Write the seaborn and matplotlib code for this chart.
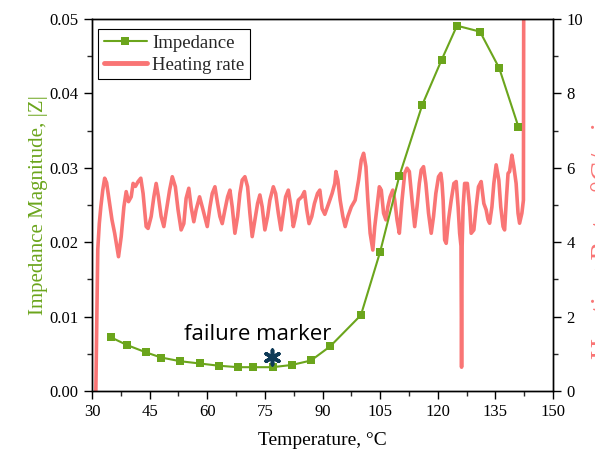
import numpy as np
import pandas as pd
import seaborn as sns
import matplotlib
matplotlib.use("Agg")
import matplotlib.pyplot as plt
from matplotlib.ticker import MultipleLocator, FormatStrFormatter

# ---------------- data ----------------
imp_temp = [35, 39, 44, 48, 53, 58, 63, 68, 72, 77, 82, 87, 92, 100, 105, 110,
            116, 121, 125, 131, 136, 141]
imp_mag = [0.0072, 0.0062, 0.0052, 0.0045, 0.0040, 0.0037, 0.0034, 0.0032,
           0.0032, 0.0032, 0.0035, 0.0041, 0.0060, 0.0102, 0.0187, 0.0289,
           0.0385, 0.0445, 0.0491, 0.0483, 0.0434, 0.0355]

hr_temp = [31.0, 31.2, 31.5, 31.9, 32.3, 32.8, 33.3, 33.8, 34.6, 35.2, 35.9, 36.6,
           36.9, 37.6, 38.3, 38.9, 39.5, 40.2, 40.7, 41.3, 42.0, 42.7, 43.3, 44.1,
           44.6, 45.4, 46.1, 46.7, 47.3, 48.0, 48.7, 49.4, 50.2, 50.9, 51.7, 52.4,
           53.2, 53.9, 54.5, 55.2, 55.8, 56.5, 57.1, 58.0, 58.9, 60.0, 60.7, 61.3,
           62.0, 62.7, 63.3, 63.9, 64.6, 65.3, 65.9, 66.5, 67.2, 67.9, 68.5, 69.1,
           69.8, 70.5, 71.1, 71.7, 72.4, 73.1, 73.7, 74.3, 75.0, 75.7, 76.3, 77.2,
           77.8, 78.5, 79.2, 79.8, 80.4, 81.1, 81.8, 82.4, 83.0, 83.7, 84.6, 85.3,
           85.9, 86.5, 87.2, 87.9, 88.7, 89.3, 89.9, 90.6, 91.6, 92.5, 93.2, 93.5,
           94.0, 94.6, 95.3, 95.9, 96.6, 97.5, 98.5, 99.4, 100.1, 100.7, 101.3, 101.8,
           102.4, 103.1, 103.6, 104.2, 104.8, 105.3, 105.9, 106.5, 107.0, 107.6, 108.3,
           108.8, 109.4, 110.0, 110.7, 111.4, 112.0, 112.6, 113.3, 114.0, 114.6, 115.2,
           115.7, 116.3, 116.9, 117.6, 118.3, 118.9, 119.5, 120.2, 120.8, 121.1, 121.4,
           121.8, 122.2, 122.8, 123.5, 124.2, 124.8, 125.3, 125.7, 126.05, 126.2,
           126.35, 126.6, 127.0, 127.7, 128.3, 128.7, 129.4, 130.0, 130.6, 131.3,
           132.0, 132.6, 133.1, 133.5, 134.1, 134.6, 135.2, 135.9, 136.4, 137.0,
           137.4, 137.9, 138.3, 138.7, 139.3, 139.8, 140.4, 140.9, 141.3, 141.9,
           142.3, 142.4]
hr_rate = [0.0, 1.6, 3.8, 4.5, 4.95, 5.4, 5.72, 5.6, 5.04, 4.6, 4.24, 3.8,
           3.61, 4.15, 4.95, 5.36, 5.09, 5.22, 5.58, 5.5, 5.63, 5.72, 5.31, 4.42,
           4.37, 4.69, 5.22, 5.58, 5.22, 4.69, 4.42, 4.87, 5.40, 5.76, 5.49, 4.87,
           4.33, 4.50, 5.18, 5.45, 4.95, 4.55, 4.87, 5.22, 4.87, 4.42, 4.95, 5.31,
           5.49, 5.04, 4.69, 4.50, 4.87, 5.22, 5.40, 4.95, 4.24, 4.69, 5.31, 5.67,
           5.76, 5.49, 4.78, 4.15, 4.60, 5.04, 5.27, 4.95, 4.33, 4.69, 5.13, 5.49,
           5.31, 4.78, 4.33, 4.78, 5.22, 5.40, 4.95, 4.42, 4.69, 5.13, 5.22, 5.36,
           4.87, 4.50, 4.69, 5.04, 5.31, 5.40, 4.90, 4.75, 5.04, 5.31, 5.58, 5.90,
           5.67, 5.13, 4.69, 4.42, 4.69, 4.95, 5.13, 5.67, 6.21, 6.39, 6.03, 5.13,
           4.24, 3.79, 4.42, 4.95, 5.49, 5.40, 4.78, 4.60, 4.95, 5.22, 5.40,
           5.13, 4.60, 4.24, 5.13, 5.85, 5.99, 5.90, 5.13, 4.42, 4.95, 5.58,
           5.94, 6.03, 5.58, 4.78, 4.24, 4.69, 5.31, 5.76, 5.85, 5.6, 5.13,
           4.06, 3.97, 4.60, 5.13, 5.58, 5.63, 4.95, 4.24, 3.9, 0.64,
           3.9, 4.95, 5.58, 5.58, 4.95, 4.24, 4.33, 4.95, 5.49, 5.63,
           5.04, 4.87, 4.60, 4.51, 4.95, 5.58, 6.08, 5.67, 4.95, 4.42,
           4.33, 5.22, 5.85, 5.90, 6.34, 6.03, 5.58, 4.78, 4.51, 4.78,
           5.13, 12.0]

marker_label = "failure marker"
marker_temp = 76.9
marker_value = 0.0046
label_temp = 73.2
label_value = 0.00685

imp_df = pd.DataFrame({"Temperature": imp_temp, "Impedance": imp_mag})
hr_df = pd.DataFrame({"Temperature": hr_temp, "Rate": hr_rate})

# ---------------- style ----------------
sns.set_theme(style="ticks")
plt.rcParams["font.family"] = ["Liberation Serif", "DejaVu Serif"]
plt.rcParams["mathtext.fontset"] = "stix"

GREEN = "#6BA51C"
PINK = "#F97575"

fig = plt.figure(figsize=(5.95, 4.51), dpi=100)
ax = fig.add_axes([92 / 595, 1 - 391 / 451, 461 / 595, 372 / 451])
ax2 = ax.twinx()

sns.lineplot(data=hr_df, x="Temperature", y="Rate", ax=ax2, color=PINK,
             linewidth=2.6, sort=False, estimator=None, label="Heating rate")
sns.lineplot(data=imp_df, x="Temperature", y="Impedance", ax=ax, color=GREEN,
             linewidth=1.5, marker="s", markersize=5.5, markeredgewidth=0,
             sort=False, estimator=None, label="Impedance")

ax.set_zorder(ax2.get_zorder() + 1)
ax.patch.set_visible(False)

ax.set_xlim(30, 150)
ax.set_ylim(0, 0.05)
ax2.set_ylim(0, 10)

ax.xaxis.set_major_locator(MultipleLocator(15))
ax.xaxis.set_minor_locator(MultipleLocator(7.5))
ax.yaxis.set_major_locator(MultipleLocator(0.01))
ax.yaxis.set_minor_locator(MultipleLocator(0.005))
ax.yaxis.set_major_formatter(FormatStrFormatter("%.2f"))
ax2.yaxis.set_major_locator(MultipleLocator(2))
ax2.yaxis.set_minor_locator(MultipleLocator(1))

for a in (ax, ax2):
    a.tick_params(which="major", direction="out", length=6, width=1.0,
                  labelsize=12, colors="black")
    a.tick_params(which="minor", direction="out", length=3.5, width=1.0)
    for s in a.spines.values():
        s.set_linewidth(1.0)
        s.set_color("black")
        s.set_visible(True)
ax.tick_params(axis="both", which="both", top=False, right=False)
ax2.tick_params(axis="y", which="both", left=False, right=True)

ax.set_xlabel("Temperature, °C", fontsize=14, color="black")
ax.xaxis.set_label_coords(0.5, -0.11)
ax.set_ylabel("Impedance Magnitude, |Z|", fontsize=15, color=GREEN)
ax.yaxis.set_label_coords(-0.095, 0.5)
ax2.set_ylabel("Heating Rate, °C/min", fontsize=21, color=PINK)
ax2.yaxis.set_label_coords(1.083, 0.425)

# annotation
ax.text(label_temp, label_value, marker_label, fontsize=16,
        family=["Open Sans", "DejaVu Sans"], color="black",
        ha="center", va="baseline")
ax.scatter([marker_temp], [marker_value], marker=(6, 2, 0), s=110,
           linewidths=2.6, color="#0E3A57", zorder=5)

# legend
h1, l1 = ax.get_legend_handles_labels()
h2, l2 = ax2.get_legend_handles_labels()
if ax2.get_legend() is not None:
    ax2.get_legend().remove()
leg = ax.legend(h1 + h2, l1 + l2, loc="upper left",
                bbox_to_anchor=(6 / 461, 1 - 10 / 372), borderaxespad=0,
                fontsize=13.5, frameon=True, fancybox=False, edgecolor="black",
                framealpha=1, handlelength=2.3, handletextpad=0.3,
                borderpad=0.3, labelspacing=0.25)
leg.get_frame().set_linewidth(0.8)
for h in leg.legend_handles:
    if h.get_label() == "Heating rate":
        h.set_linewidth(3.5)

fig.savefig("out.png", dpi=100)
